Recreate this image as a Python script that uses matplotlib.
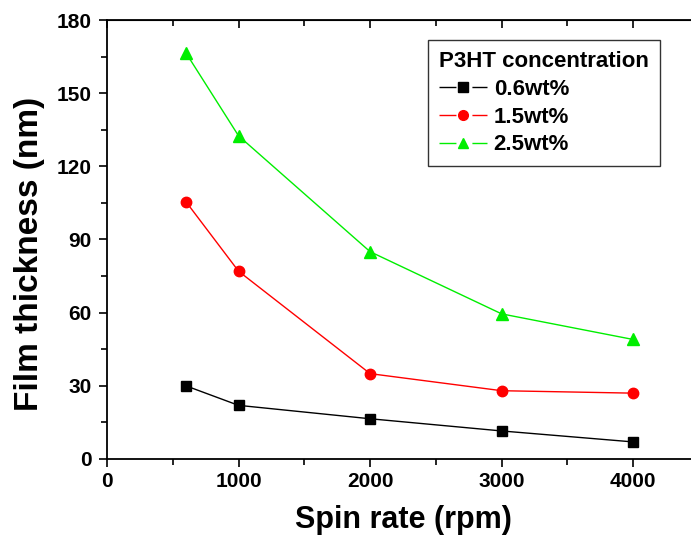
import numpy as np
import matplotlib.pyplot as plt
from matplotlib.lines import Line2D
from matplotlib.ticker import MultipleLocator

plt.rcParams['font.family'] = ['Liberation Sans', 'DejaVu Sans']
plt.rcParams['font.weight'] = 'bold'

spin_rate = [600, 1000, 2000, 3000, 4000]
t_06 = [30, 22, 16.5, 11.5, 7]
t_15 = [105.5, 77, 35, 28, 27]
t_25 = [166.5, 132.5, 85, 59.5, 49]
labels = ['0.6wt%', '1.5wt%', '2.5wt%']
colors = ['black', 'red', '#00ee00']
markers = ['s', 'o', '^']
sizes = [7, 7.5, 8]

fig = plt.figure(figsize=(6.91, 5.49), dpi=100)
ax = fig.add_axes([107 / 691, 90 / 549, 592 / 691, 439 / 549])

for y, c, m, s in zip([t_06, t_15, t_25], colors, markers, sizes):
    ax.plot(spin_rate, y, color=c, lw=1, marker=m, ms=s)

ax.set_xlim(0, 4500)
ax.set_ylim(0, 180)
ax.xaxis.set_major_locator(MultipleLocator(1000))
ax.xaxis.set_minor_locator(MultipleLocator(500))
ax.yaxis.set_major_locator(MultipleLocator(30))
ax.yaxis.set_minor_locator(MultipleLocator(15))
ax.tick_params(which='both', direction='out', width=1.2)
ax.tick_params(which='major', length=6, labelsize=15)
ax.tick_params(axis='y', which='major', pad=5)
ax.tick_params(which='minor', length=4)
for sp in ax.spines.values():
    sp.set_linewidth(1.3)

# opposite axes: ticks pointing inward, no labels
top = ax.secondary_xaxis('top')
top.xaxis.set_major_locator(MultipleLocator(1000))
top.xaxis.set_minor_locator(MultipleLocator(500))
top.tick_params(which='both', direction='in', labeltop=False, width=1.2)
top.tick_params(which='major', length=6)
top.tick_params(which='minor', length=4)
right = ax.secondary_yaxis('right')
right.yaxis.set_major_locator(MultipleLocator(30))
right.yaxis.set_minor_locator(MultipleLocator(15))
right.tick_params(which='both', direction='in', labelright=False, width=1.2)
right.tick_params(which='major', length=6)
right.tick_params(which='minor', length=4)

ax.set_xlabel('Spin rate (rpm)', fontsize=22, fontweight='bold', labelpad=10)
ax.set_ylabel('Film thickness (nm)', fontsize=24, fontweight='bold')
ax.yaxis.set_label_coords(-0.105, 0.467)

# legend handles in the Origin style: line - marker - line
handles = [Line2D([], [], color=c, lw=1, dashes=(12.2, 11.5), marker=m, ms=s - 0.5)
           for c, m, s in zip(colors, markers, sizes)]
leg = ax.legend(handles, labels, title='P3HT concentration', loc='upper left',
                bbox_to_anchor=(0.542, 0.954), fontsize=16, title_fontsize=16,
                frameon=True, fancybox=False, edgecolor='black', alignment='left',
                handlelength=2.16, handletextpad=0.3, borderpad=0.5,
                labelspacing=0.3, borderaxespad=0)
leg.get_title().set_fontweight('bold')
leg.get_frame().set_linewidth(1)

plt.savefig('out.png', dpi=100)
